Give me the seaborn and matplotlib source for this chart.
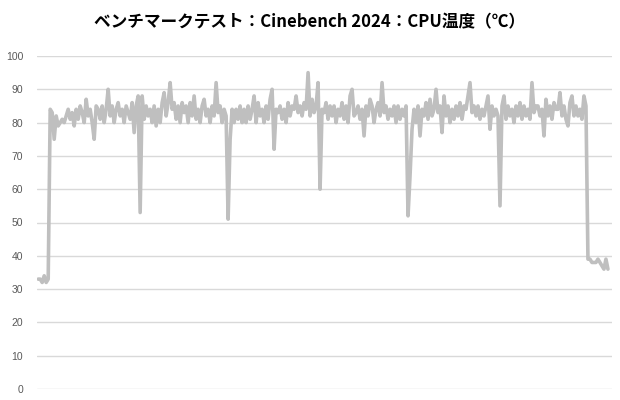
import numpy as np
import pandas as pd
import matplotlib
matplotlib.use("Agg")
import matplotlib.pyplot as plt
import seaborn as sns

title = "ベンチマークテスト：Cinebench 2024：CPU温度（℃）"
y_ticks = [0, 10, 20, 30, 40, 50, 60, 70, 80, 90, 100]

temps = [
    33, 33, 32, 34, 32, 33, 84, 83, 75, 82,
    79, 80, 81, 80, 82, 84, 81, 83, 79, 84,
    81, 85, 83, 80, 87, 82, 84, 80, 75, 85,
    84, 81, 85, 80, 84, 90, 82, 85, 80, 84,
    86, 82, 84, 80, 85, 83, 81, 86, 77, 85,
    88, 53, 88, 81, 85, 82, 84, 80, 85, 79,
    84, 80, 86, 89, 82, 86, 92, 84, 86, 81,
    85, 80, 86, 83, 85, 80, 86, 82, 88, 81,
    84, 80, 85, 87, 82, 84, 80, 85, 82, 92,
    83, 85, 80, 84, 82, 51, 75, 84, 80, 84,
    81, 85, 80, 84, 80, 85, 81, 84, 88, 80,
    86, 82, 84, 80, 85, 81, 87, 90, 72, 84,
    83, 85, 81, 84, 80, 86, 82, 85, 84, 88,
    83, 85, 82, 86, 84, 95, 82, 87, 83, 85,
    92, 60, 84, 83, 86, 81, 85, 82, 85, 80,
    84, 82, 86, 81, 85, 80, 88, 90, 82, 83,
    85, 81, 84, 76, 85, 82, 87, 85, 80, 84,
    86, 82, 92, 83, 85, 81, 84, 82, 85, 80,
    85, 81, 84, 82, 85, 52, 64, 78, 84, 80,
    85, 76, 84, 82, 86, 81, 87, 82, 84, 90,
    83, 85, 77, 88, 82, 85, 80, 84, 81, 85,
    82, 86, 81, 85, 84, 88, 92, 83, 85, 82,
    85, 81, 84, 82, 85, 88, 78, 85, 82, 84,
    82, 55, 85, 88, 81, 85, 82, 84, 80, 85,
    82, 86, 81, 85, 82, 84, 81, 92, 83, 85,
    85, 82, 84, 76, 87, 82, 85, 81, 86, 84,
    84, 89, 82, 85, 81, 79, 86, 88, 82, 85,
    82, 84, 81, 88, 85, 39, 39, 38, 38, 38,
    39, 38, 37, 36, 39, 36,
]

df = pd.DataFrame({"t": np.arange(len(temps)), "temp": temps})

sns.set_theme(style="white")
plt.rcParams["font.family"] = ["Noto Sans CJK JP", "DejaVu Sans"]

fig = plt.figure(figsize=(6.2, 4.0), dpi=100)
ax = fig.add_axes([0.06, 0.0275, 0.927, 0.8325])

sns.lineplot(data=df, x="t", y="temp", ax=ax, color="#BFBFBF", linewidth=2.6)

ax.set_ylim(0, 100)
ax.set_xlim(-0.5, 287)
ax.set_yticks(y_ticks)
ax.set_yticklabels([str(v) for v in y_ticks], fontsize=7.5, color="#595959",
                   family=["Liberation Sans", "DejaVu Sans"])
ax.set_xticks([])
ax.set_xlabel("")
ax.set_ylabel("")
ax.grid(axis="y", color="#D9D9D9", linewidth=1)
ax.set_axisbelow(True)
for s in ax.spines.values():
    s.set_visible(False)
ax.tick_params(axis="y", length=0, pad=10)

fig.text(0.5, 0.945, title, ha="center", va="center", fontsize=12,
         fontweight="bold", color="#000000",
         family=["Noto Sans CJK JP", "DejaVu Sans"])

fig.savefig("out.png", dpi=100, facecolor="white")
